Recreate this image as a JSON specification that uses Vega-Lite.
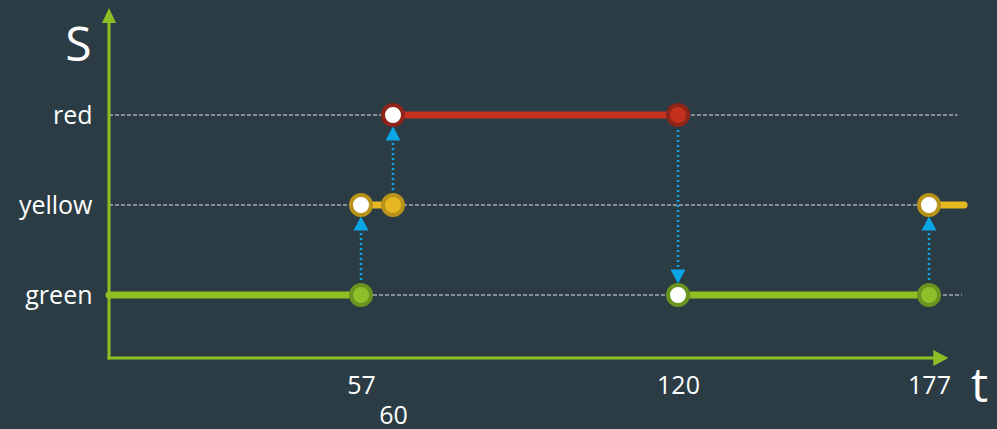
{
  "$schema": "https://vega.github.io/schema/vega-lite/v6.json",
  "autosize": {"type": "none"},
  "padding": {"left": 109, "top": 7, "right": 11, "bottom": 71},
  "width": 877,
  "height": 351,
  "background": "#2c3c44",
  "datasets": {
    "grid": [
      {"lv": 3, "t0": 0, "t1": 183.5},
      {"lv": 2, "t0": 0, "t1": 184.5},
      {"lv": 1, "t0": 0, "t1": 184.5}
    ],
    "axes": [
      {"t0": 0, "t1": 0, "l0": 0.3, "l1": 4.03},
      {"t0": 0, "t1": 178.5, "l0": 0.3, "l1": 0.3}
    ],
    "axisHeads": [
      {"t": 0, "lv": 4.106, "dir": "north"},
      {"t": 179.7, "lv": 0.3, "dir": "east"}
    ],
    "segments": [
      {"state": "green", "lv": 1, "t0": 0, "t1": 57},
      {"state": "yellow", "lv": 2, "t0": 57, "t1": 60},
      {"state": "red", "lv": 3, "t0": 60, "t1": 120},
      {"state": "green", "lv": 1, "t0": 120, "t1": 177},
      {"state": "yellow", "lv": 2, "t0": 177, "t1": 185}
    ],
    "transitions": [
      {"t": 57, "from": 1, "to": 2, "dir": "up"},
      {"t": 60, "from": 2, "to": 3, "dir": "up"},
      {"t": 120, "from": 3, "to": 1, "dir": "down"},
      {"t": 177, "from": 1, "to": 2, "dir": "up"}
    ],
    "events": [
      {"t": 57, "state": "green", "lv": 1, "open": false},
      {"t": 57, "state": "yellow", "lv": 2, "open": true},
      {"t": 60, "state": "yellow", "lv": 2, "open": false},
      {"t": 60, "state": "red", "lv": 3, "open": true},
      {"t": 120, "state": "red", "lv": 3, "open": false},
      {"t": 120, "state": "green", "lv": 1, "open": true},
      {"t": 177, "state": "green", "lv": 1, "open": false},
      {"t": 177, "state": "yellow", "lv": 2, "open": true}
    ]
  },
  "encoding": {
    "x": {
      "type": "quantitative",
      "scale": {
        "domain": [0, 57, 60, 120, 177, 190],
        "range": [0, 252, 284, 569, 820, 877],
        "nice": false,
        "zero": false
      },
      "axis": {
        "values": [57, 60, 120, 177],
        "domain": false,
        "ticks": false,
        "grid": false,
        "labelOverlap": false,
        "labelFlush": false,
        "labelFontSize": 25,
        "labelColor": "#ffffff",
        "labelBaseline": "alphabetic",
        "labelPadding": {"condition": {"test": "datum.value === 60", "value": 65}, "value": 35},
        "title": "t",
        "titleAlign": "center",
        "titleBaseline": "alphabetic",
        "titleX": 870,
        "titleY": 43,
        "titleFontSize": 48,
        "titleFontWeight": "normal",
        "titleColor": "#ffffff"
      }
    },
    "y": {
      "type": "quantitative",
      "scale": {"domain": [0.3, 4.2], "nice": false, "zero": false},
      "axis": {
        "values": [1, 2, 3],
        "labelExpr": "['', 'green', 'yellow', 'red'][datum.value]",
        "domain": false,
        "ticks": false,
        "grid": false,
        "labelPadding": 17,
        "labelFontSize": 25,
        "labelColor": "#ffffff",
        "labelBaseline": "middle",
        "title": "S",
        "titleAngle": 0,
        "titleAlign": "center",
        "titleBaseline": "alphabetic",
        "titleX": -31,
        "titleY": 53,
        "titleFontSize": 48,
        "titleFontWeight": "normal",
        "titleColor": "#ffffff"
      }
    }
  },
  "layer": [
    {
      "data": {"name": "grid"},
      "mark": {"type": "rule", "color": "#dfe3e4", "strokeWidth": 1, "strokeDash": [4, 2]},
      "encoding": {
        "x": {"field": "t0", "type": "quantitative"},
        "x2": {"field": "t1"},
        "y": {"field": "lv", "type": "quantitative"}
      }
    },
    {
      "data": {"name": "axes"},
      "mark": {"type": "rule", "color": "#8cbf26", "strokeWidth": 3, "strokeCap": "square"},
      "encoding": {
        "x": {"field": "t0", "type": "quantitative"},
        "x2": {"field": "t1"},
        "y": {"field": "l0", "type": "quantitative"},
        "y2": {"field": "l1"}
      }
    },
    {
      "data": {"name": "transitions"},
      "mark": {"type": "rule", "color": "#0aa7e8", "strokeWidth": 2.5, "strokeDash": [2, 3]},
      "encoding": {
        "x": {"field": "t", "type": "quantitative"},
        "y": {"field": "from", "type": "quantitative"},
        "y2": {"field": "to"}
      }
    },
    {
      "data": {"name": "segments"},
      "mark": {"type": "rule", "strokeWidth": 7, "strokeCap": "round"},
      "encoding": {
        "x": {"field": "t0", "type": "quantitative"},
        "x2": {"field": "t1"},
        "y": {"field": "lv", "type": "quantitative"},
        "color": {
          "field": "state",
          "type": "nominal",
          "scale": {"domain": ["green", "yellow", "red"], "range": ["#8fc023", "#e5b81f", "#c53220"]},
          "legend": null
        }
      }
    },
    {
      "data": {"name": "transitions"},
      "mark": {"type": "point", "filled": true, "opacity": 1, "color": "#0aa7e8", "size": 400},
      "encoding": {
        "x": {"field": "t", "type": "quantitative"},
        "y": {"field": "to", "type": "quantitative"},
        "shape": {
          "field": "dir",
          "type": "nominal",
          "scale": {
            "domain": ["up", "down", "north", "east"],
            "range": [
              "M0,1.15L0.75,2.55L-0.75,2.55Z",
              "M0,-1.15L0.75,-2.55L-0.75,-2.55Z",
              "M0,-0.75L0.7,0.75L-0.7,0.75Z",
              "M0.75,0L-0.75,-0.8L-0.75,0.8Z"
            ]
          },
          "legend": null
        }
      }
    },
    {
      "data": {"name": "events"},
      "transform": [{"filter": "!datum.open"}],
      "mark": {"type": "point", "filled": true, "opacity": 1, "shape": "circle", "size": 400, "strokeWidth": 4},
      "encoding": {
        "x": {"field": "t", "type": "quantitative"},
        "y": {"field": "lv", "type": "quantitative"},
        "fill": {
          "field": "state",
          "type": "nominal",
          "scale": {"domain": ["green", "yellow", "red"], "range": ["#8fbf2a", "#e6b722", "#c5311f"]},
          "legend": null
        },
        "stroke": {
          "field": "state",
          "type": "nominal",
          "scale": {"domain": ["green", "yellow", "red"], "range": ["#6a9420", "#b89219", "#8f2419"]},
          "legend": null
        }
      }
    },
    {
      "data": {"name": "events"},
      "transform": [{"filter": "datum.open"}],
      "mark": {"type": "point", "filled": true, "opacity": 1, "shape": "circle", "size": 400, "strokeWidth": 4},
      "encoding": {
        "x": {"field": "t", "type": "quantitative"},
        "y": {"field": "lv", "type": "quantitative"},
        "fill": {"value": "#ffffff"},
        "stroke": {
          "field": "state",
          "type": "nominal",
          "scale": {"domain": ["green", "yellow", "red"], "range": ["#6a9420", "#b89219", "#8f2419"]},
          "legend": null
        }
      }
    },
    {
      "data": {"name": "axisHeads"},
      "mark": {"type": "point", "filled": true, "opacity": 1, "color": "#8cbf26", "size": 400},
      "encoding": {
        "x": {"field": "t", "type": "quantitative"},
        "y": {"field": "lv", "type": "quantitative"},
        "shape": {
          "field": "dir",
          "type": "nominal",
          "scale": {
            "domain": ["up", "down", "north", "east"],
            "range": [
              "M0,1.15L0.75,2.55L-0.75,2.55Z",
              "M0,-1.15L0.75,-2.55L-0.75,-2.55Z",
              "M0,-0.75L0.7,0.75L-0.7,0.75Z",
              "M0.75,0L-0.75,-0.8L-0.75,0.8Z"
            ]
          },
          "legend": null
        }
      }
    }
  ],
  "config": {
    "font": "Open Sans",
    "view": {"stroke": null}
  }
}
